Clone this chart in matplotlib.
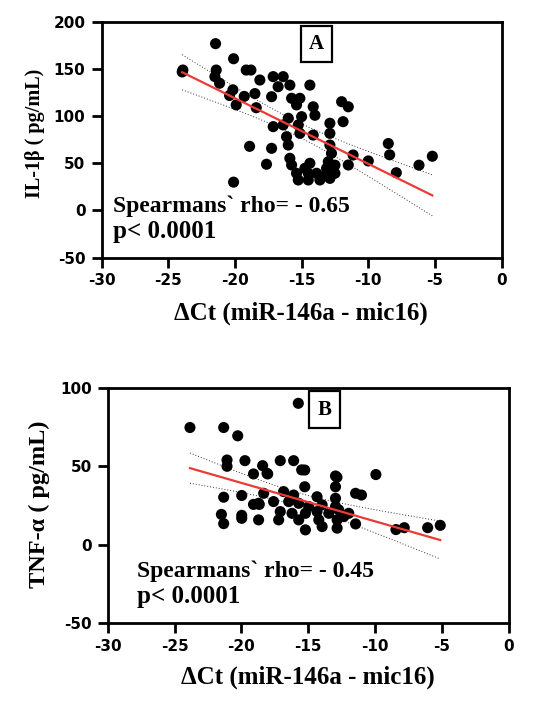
import numpy as np
import matplotlib
matplotlib.use("Agg")
import matplotlib.pyplot as plt

# ---------------------------------------------------------
# Data
# ---------------------------------------------------------
il1b_dct = [
    -21.45, -23.95, -23.9, -20.1, -21.4, -21.5, -19.15, -18.8, -21.15, -20.15,
    -20.4, -19.3, -18.5, -19.9, -18.4, -18.9, -20.1, -10.0, -8.5, -8.4,
    -7.9, -6.2, -5.2,
    -18.13, -17.13, -16.38, -16.76, -15.88, -14.38, -17.25, -15.75, -15.13, -15.38,
    -14.13, -14.0, -12.0, -11.5, -16.0, -15.0, -12.88, -11.89, -17.13, -16.38,
    -15.25, -15.13, -14.13, -12.88, -16.13, -16.0, -17.25, -12.88, -11.14, -12.76,
    -15.88, -17.63, -14.38, -13.0, -11.5, -15.75, -15.38, -14.5, -13.88, -13.13,
    -12.5, -15.25, -14.5, -13.63, -12.88, -14.75, -13.13, -12.5,
]
il1b_val = [
    177, 147, 149, 161, 149, 142, 149, 149, 135, 128,
    122, 121, 124, 112, 109, 68, 30, 52.5, 71, 59,
    40, 48, 57.5,
    138.4, 142, 142, 131.3, 133, 133, 120.7, 119, 119, 112,
    110, 101, 115.4, 110, 97.8, 99.5, 92.5, 94.2, 88.9, 90.7,
    90.7, 81.8, 80, 81.8, 78.2, 69.4, 65.9, 69.4, 58.8, 60.6,
    55.3, 49, 50, 51.7, 48.2, 48.2, 39.4, 39.4, 39.4, 39.4,
    39.4, 32.3, 32.3, 32.3, 34, 44.7, 44.7, 48,
]

tnf_dct = [
    -15.75, -23.85, -21.33, -20.28, -21.08, -21.08, -19.74, -18.42, -19.1, -18.04,
    -17.1, -16.1, -15.5, -12.86, -9.95, -21.33, -19.98, -19.1, -18.67, -21.5,
    -21.33, -19.98, -19.98, -8.45, -7.83, -6.08, -5.14,
    -18.09, -15.27, -12.97, -12.97, -15.27, -16.85, -16.1, -14.35, -12.97, -11.47,
    -11.03, -18.34, -17.6, -16.47, -15.72, -14.97, -13.97, -12.97, -18.72, -17.1,
    -16.22, -15.22, -14.35, -13.47, -12.73, -11.98, -17.22, -15.72, -14.22, -12.85,
    -12.35, -13.97, -12.85, -11.47, -15.22, -18.72,
]
tnf_val = [
    90.4, 74.9, 74.9, 69.6, 54.1, 50.1, 53.7, 50.5, 45.2, 45.2,
    53.7, 53.7, 47.8, 43.1, 44.8, 30.3, 31.4, 25.7, 25.7, 19.3,
    13.4, 18.7, 16.8, 9.6, 10.8, 10.8, 12.3,
    45.6, 47.7, 43.9, 37, 37, 33.9, 31.7, 30.6, 29.6, 32.8,
    31.7, 32.8, 27.5, 27.5, 26.4, 24.3, 25.4, 24.3, 26.4, 21.1,
    20, 20, 21.1, 20, 22.2, 20, 15.8, 15.8, 15.8, 15.8,
    17.9, 11.5, 10.5, 13.2, 9.4, 15.8,
]

# regression lines as drawn in the figure (slope, intercept)
il1b_fit = (-6.97, -20.3)
tnf_fit = (-2.46, -9.75)

x_ticks = [-30, -25, -20, -15, -10, -5, 0]
il1b_ticks = [-50, 0, 50, 100, 150, 200]
tnf_ticks = [-50, 0, 50, 100]

SERIF = "Liberation Serif"
RED = "#ec3b36"

plt.rcParams["font.family"] = "DejaVu Sans"
plt.rcParams["font.weight"] = "bold"
plt.rcParams["axes.unicode_minus"] = False


def band(x, y, fit):
    x = np.asarray(x, float)
    y = np.asarray(y, float)
    slope, icpt = fit
    xs = np.linspace(x.min(), x.max(), 100)
    line = slope * xs + icpt
    n = len(x)
    resid = y - (slope * x + icpt)
    s = np.sqrt(np.sum(resid ** 2) / (n - 2))
    sxx = np.sum((x - x.mean()) ** 2)
    half = 1.99 * s * np.sqrt(1.0 / n + (xs - x.mean()) ** 2 / sxx)
    return xs, line, line - half, line + half


def draw_panel(ax, x, y, fit, yticks, letter, letter_pos):
    ax.scatter(x, y, s=64, color="black", edgecolors="none", zorder=3)
    xs, line, lo, hi = band(x, y, fit)
    ax.plot(xs, line, color=RED, lw=1.6, zorder=4)
    ax.plot(xs, lo, color="#333333", lw=0.7, ls=(0, (1, 2)), zorder=2)
    ax.plot(xs, hi, color="#333333", lw=0.7, ls=(0, (1, 2)), zorder=2)

    ax.set_xlim(-30, 0)
    ax.set_ylim(yticks[0], yticks[-1])
    ax.set_xticks(x_ticks)
    ax.set_yticks(yticks)
    ax.tick_params(direction="out", length=7.5, width=2, labelsize=11, pad=4)
    for lab in ax.get_xticklabels() + ax.get_yticklabels():
        lab.set_fontweight("bold")
    for sp in ax.spines.values():
        sp.set_linewidth(2)

    ax.text(letter_pos[0], letter_pos[1], letter, transform=ax.transAxes,
            ha="center", va="center", fontsize=15, fontweight="bold",
            family=SERIF,
            bbox=dict(boxstyle="square,pad=0.4", fc="white", ec="black", lw=1.6))


fig = plt.figure(figsize=(5.45, 7.14), dpi=100)
W, H = 545.0, 714.0

# Panel A
ax_a = fig.add_axes([101.5 / W, 1 - 257.5 / H, 400.2 / W, 235.5 / H])
draw_panel(ax_a, il1b_dct, il1b_val, il1b_fit, il1b_ticks, "A", (0.537, 0.906))
fig.text(113 / W, 1 - 212 / H, "Spearmans` rho= - 0.65", family=SERIF,
         fontsize=17, fontweight="bold", va="baseline")
fig.text(113 / W, 1 - 238 / H, "p< 0.0001", family=SERIF,
         fontsize=18, fontweight="bold", va="baseline")
fig.text(301 / W, 1 - 313 / H, "ΔCt (miR-146a - mic16)", family=SERIF,
         fontsize=18, fontweight="bold", ha="center", va="center")
fig.text(35 / W, 1 - 133 / H, "IL-1β ( pg/mL)", family=SERIF,
         fontsize=14.5, fontweight="bold", ha="center", va="center",
         rotation=90)

# Panel B
ax_b = fig.add_axes([107.7 / W, 1 - 622.7 / H, 401.3 / W, 234.4 / H])
draw_panel(ax_b, tnf_dct, tnf_val, tnf_fit, tnf_ticks, "B", (0.541, 0.909))
fig.text(137 / W, 1 - 577 / H, "Spearmans` rho= - 0.45", family=SERIF,
         fontsize=17, fontweight="bold", va="baseline")
fig.text(137 / W, 1 - 603 / H, "p< 0.0001", family=SERIF,
         fontsize=18, fontweight="bold", va="baseline")
fig.text(308 / W, 1 - 677 / H, "ΔCt (miR-146a - mic16)", family=SERIF,
         fontsize=18, fontweight="bold", ha="center", va="center")
fig.text(39 / W, 1 - 504 / H, "TNF-α ( pg/mL)", family=SERIF,
         fontsize=17.5, fontweight="bold", ha="center", va="center",
         rotation=90)

fig.savefig("out.png", dpi=100)
plt.close(fig)
